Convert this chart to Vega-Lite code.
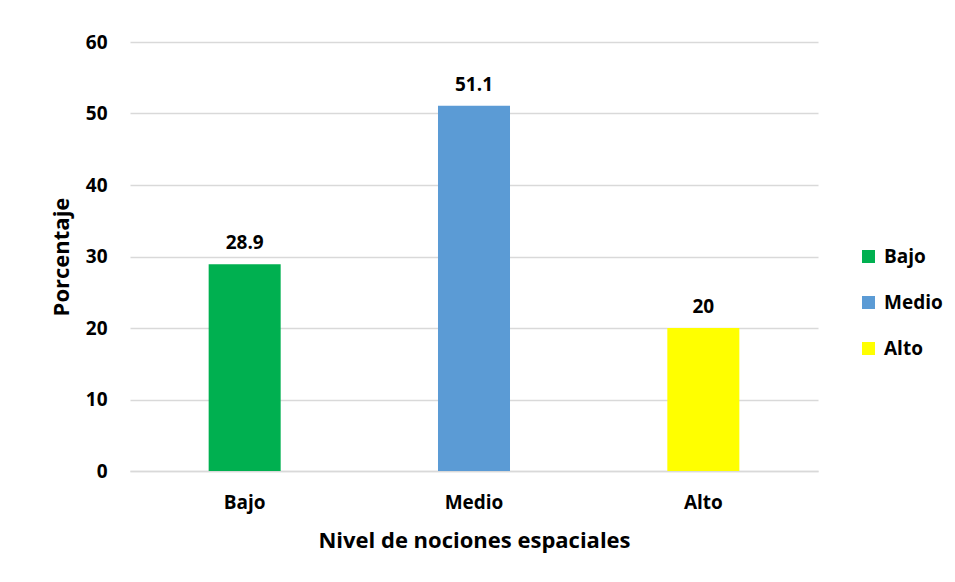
{
  "$schema": "https://vega.github.io/schema/vega-lite/v6.json",
  "width": 688,
  "height": 429,
  "autosize": {"type": "none"},
  "padding": {"left": 130, "top": 42, "right": 137, "bottom": 111},
  "background": "white",
  "config": {
    "view": {"stroke": null},
    "font": "Open Sans",
    "axis": {"labelFont": "Open Sans", "titleFont": "Open Sans", "labelColor": "#000000", "titleColor": "#000000"}
  },
  "data": {
    "values": [
      {"nivel": "Bajo", "porcentaje": 28.9},
      {"nivel": "Medio", "porcentaje": 51.1},
      {"nivel": "Alto", "porcentaje": 20}
    ]
  },
  "encoding": {
    "x": {
      "field": "nivel",
      "type": "nominal",
      "sort": ["Bajo", "Medio", "Alto"],
      "scale": {"paddingInner": 0.686, "paddingOuter": 0.343},
      "axis": {
        "title": "Nivel de nociones espaciales",
        "labelAngle": 0,
        "labelFontSize": 19,
        "labelFontWeight": "bold",
        "labelPadding": 22,
        "titleFontSize": 22,
        "titleFontWeight": "bold",
        "titlePadding": 18,
        "ticks": false,
        "domainColor": "#d9d9d9",
        "domainWidth": 1.5
      }
    },
    "y": {
      "field": "porcentaje",
      "type": "quantitative",
      "scale": {"domain": [0, 60]},
      "axis": {
        "title": "Porcentaje",
        "values": [0, 10, 20, 30, 40, 50, 60],
        "labelFontSize": 19,
        "labelFontWeight": "bold",
        "labelPadding": 23,
        "titleFontSize": 22,
        "titleFontWeight": "bold",
        "titlePadding": 12,
        "ticks": false,
        "domain": false,
        "gridColor": "#d9d9d9",
        "gridWidth": 1.5
      }
    }
  },
  "layer": [
    {
      "mark": {"type": "bar"},
      "encoding": {
        "color": {
          "field": "nivel",
          "type": "nominal",
          "sort": ["Bajo", "Medio", "Alto"],
          "scale": {"domain": ["Bajo", "Medio", "Alto"], "range": ["#00b050", "#5b9bd5", "#ffff00"]},
          "legend": {
            "title": null,
            "orient": "none",
            "legendX": 729,
            "legendY": 205,
            "symbolType": "square",
            "symbolSize": 170,
            "symbolStrokeWidth": 0,
            "labelFontSize": 19,
            "labelFontWeight": "bold",
            "labelFont": "Open Sans",
            "labelColor": "#000000",
            "rowPadding": 26,
            "labelOffset": 6
          }
        }
      }
    },
    {
      "mark": {"type": "text", "baseline": "bottom", "dy": -11, "fontSize": 19, "fontWeight": "bold", "font": "Open Sans", "color": "#000000"},
      "encoding": {
        "text": {"field": "porcentaje", "type": "quantitative"}
      }
    }
  ]
}
